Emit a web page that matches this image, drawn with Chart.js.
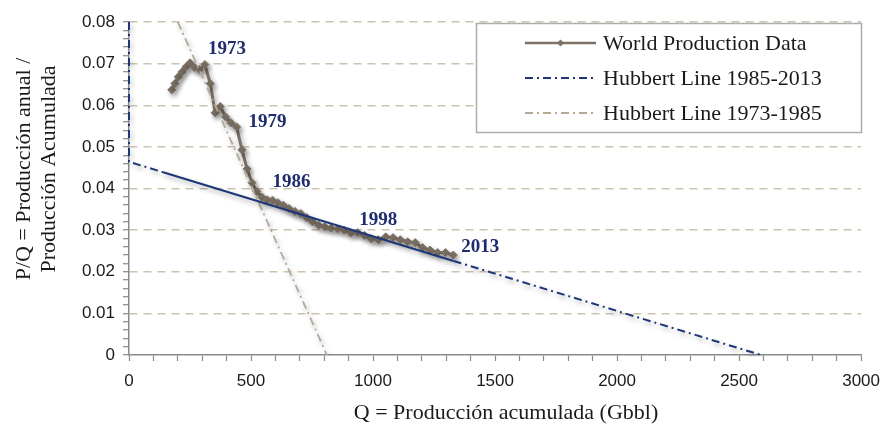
<!DOCTYPE html>
<html>
<head>
<meta charset="utf-8">
<script src="https://cdn.jsdelivr.net/npm/chart.js@4.4.1/dist/chart.umd.min.js"></script>
<style>
  html, body { margin: 0; padding: 0; background: #ffffff; }
  #wrap { width: 890px; height: 424px; position: relative; }
</style>
</head>
<body>
<div id="wrap"><canvas id="chart" width="890" height="424"></canvas></div>
<script>
// World oil production: P/Q against cumulative production Q (Gbbl), 1965-2013
const years = [
  1965, 1966, 1967, 1968, 1969, 1970, 1971, 1972, 1973, 1974,
  1975, 1976, 1977, 1978, 1979, 1980, 1981, 1982, 1983, 1984,
  1985, 1986, 1987, 1988, 1989, 1990, 1991, 1992, 1993, 1994,
  1995, 1996, 1997, 1998, 1999, 2000, 2001, 2002, 2003, 2004,
  2005, 2006, 2007, 2008, 2009, 2010, 2011, 2012, 2013
];
const cumulativeQ = [
  175, 188, 202, 217, 233, 250, 268, 289, 311, 333,
  353, 374, 396, 418, 441, 463, 484, 504, 524, 545,
  566, 588, 610, 633, 656, 680, 704, 728, 752, 777,
  802, 828, 855, 882, 909, 937, 965, 993, 1022, 1052,
  1082, 1112, 1142, 1173, 1203, 1234, 1265, 1297, 1329
];
const ratioPQ = [
  0.0637, 0.0652, 0.0668, 0.0680, 0.0692, 0.0702, 0.0691, 0.0686, 0.0698, 0.0652,
  0.0582, 0.0597, 0.0572, 0.0558, 0.0548, 0.0493, 0.0447, 0.0414, 0.0393, 0.0379,
  0.0373, 0.0372, 0.0366, 0.0360, 0.0352, 0.0345, 0.0340, 0.0330, 0.0320, 0.0312,
  0.0308, 0.0305, 0.0303, 0.0300, 0.0293, 0.0294, 0.0287, 0.0279, 0.0277, 0.0284,
  0.0282, 0.0277, 0.0272, 0.0270, 0.0258, 0.0252, 0.0246, 0.0246, 0.0240
];

// Hubbert linearisation lines (Q, P/Q)
const hubbertLateQ  = [0, 0, 140, 1330, 2590];
const hubbertLatePQ = [0.0800, 0.0464, 0.0439, 0.0226, 0];
const hubbertEarlyQ  = [200, 811];
const hubbertEarlyPQ = [0.0800, 0];

const labelledYears = [1973, 1979, 1986, 1998, 2013];
const seriesNames = ['World Production Data', 'Hubbert Line 1985-2013', 'Hubbert Line 1973-1985'];
const xTitle = 'Q = Producción acumulada (Gbbl)';
const yTitle = ['P/Q = Producción anual /', 'Producción Acumulada'];

const COL_DATA = '#7d7165';
const COL_LATE = '#1c3677';
const COL_EARLY = '#b3a994';
const COL_GRID = '#cdc3b0';
const COL_AXIS = '#8a8a8a';
const COL_TEXT = '#1a1a1a';
const COL_YEAR = '#1f2d6e';
const DASH_DOT = [8, 4, 2, 4];

const toPoints = (xs, ys) => xs.map((x, i) => ({ x: x, y: ys[i] }));
const dataMin = Math.min(...cumulativeQ), dataMax = Math.max(...cumulativeQ);

// soft drop shadow under every plotted series
const shadowPlugin = {
  id: 'seriesShadow',
  beforeDatasetDraw(chart) {
    const c = chart.ctx;
    c.save();
    c.shadowColor = 'rgba(0,0,0,0.35)';
    c.shadowBlur = 5;
    c.shadowOffsetX = 2;
    c.shadowOffsetY = 3;
  },
  afterDatasetDraw(chart) { chart.ctx.restore(); }
};

// year annotations next to selected points
const yearOffsets = { 1973: [3, -15], 1979: [12, -5], 1986: [0, -18], 1998: [15, -10], 2013: [8, -8] };
const yearLabelPlugin = {
  id: 'yearLabels',
  afterDatasetsDraw(chart) {
    const c = chart.ctx, xs = chart.scales.x, ys = chart.scales.y;
    c.save();
    c.font = 'bold 19px "Liberation Serif"';
    c.fillStyle = COL_YEAR;
    c.textAlign = 'left';
    c.textBaseline = 'middle';
    labelledYears.forEach(yr => {
      const i = years.indexOf(yr);
      const off = yearOffsets[yr];
      const px = xs.getPixelForValue(cumulativeQ[i]) + off[0];
      const py = ys.getPixelForValue(ratioPQ[i]) + off[1];
      c.fillText(String(yr), px, py);
    });
    c.restore();
  }
};

// axis titles
const axisTitlePlugin = {
  id: 'axisTitles',
  afterDraw(chart) {
    const c = chart.ctx;
    c.save();
    c.font = '22px "Liberation Serif"';
    c.fillStyle = COL_TEXT;
    c.textAlign = 'center';
    c.textBaseline = 'alphabetic';
    c.fillText(xTitle, 506, 419);
    c.translate(0, 169);
    c.rotate(-Math.PI / 2);
    c.fillText(yTitle[0], 0, 30);
    c.fillText(yTitle[1], 0, 55);
    c.restore();
  }
};

// boxed legend in the upper right of the plot
const legendPlugin = {
  id: 'boxLegend',
  afterDraw(chart) {
    const c = chart.ctx;
    const box = { x: 476.5, y: 23.5, w: 385, h: 109 };
    const rows = [43, 78, 113];
    const x0 = 525, x1 = 596, tx = 603;
    c.save();
    c.fillStyle = '#ffffff';
    c.fillRect(box.x, box.y, box.w, box.h);
    c.strokeStyle = '#adadad';
    c.lineWidth = 1.5;
    c.strokeRect(box.x, box.y, box.w, box.h);

    const styles = [
      { color: COL_DATA, dash: [], width: 2.5, marker: true },
      { color: COL_LATE, dash: DASH_DOT, width: 1.8, marker: false },
      { color: COL_EARLY, dash: DASH_DOT, width: 1.8, marker: false }
    ];
    styles.forEach((s, i) => {
      const y = rows[i];
      c.beginPath();
      c.setLineDash(s.dash);
      c.strokeStyle = s.color;
      c.lineWidth = s.width;
      c.moveTo(x0, y);
      c.lineTo(x1, y);
      c.stroke();
      c.setLineDash([]);
      if (s.marker) {
        const mx = (x0 + x1) / 2, r = 3.5;
        c.beginPath();
        c.moveTo(mx, y - r); c.lineTo(mx + r, y); c.lineTo(mx, y + r); c.lineTo(mx - r, y);
        c.closePath();
        c.fillStyle = s.color;
        c.fill();
      }
      c.font = '22px "Liberation Serif"';
      c.fillStyle = COL_TEXT;
      c.textAlign = 'left';
      c.textBaseline = 'middle';
      c.fillText(seriesNames[i], tx, y + 1);
    });
    c.restore();
  }
};

const isMajorY = v => Math.round(v * 1000) % 10 === 0;

new Chart(document.getElementById('chart'), {
  type: 'scatter',
  data: {
    datasets: [
      {
        label: seriesNames[1],
        data: toPoints(hubbertLateQ, hubbertLatePQ),
        showLine: true,
        borderColor: COL_LATE,
        borderWidth: 2,
        borderDash: DASH_DOT,
        pointRadius: 0,
        order: 0,
        clip: { left: 4, top: 2, right: 2, bottom: 2 },
        segment: {
          borderDash: ctx => (ctx.p0.parsed.x > 0 && ctx.p0.parsed.x < dataMin &&
                              ctx.p1.parsed.x <= dataMax + 5) ? [] : DASH_DOT,
          borderWidth: ctx => (ctx.p0.parsed.x > 0 && ctx.p1.parsed.x <= dataMax + 5) ? 2.2 : 2
        }
      },
      {
        label: seriesNames[2],
        data: toPoints(hubbertEarlyQ, hubbertEarlyPQ),
        showLine: true,
        borderColor: COL_EARLY,
        borderWidth: 1.8,
        borderDash: DASH_DOT,
        pointRadius: 0,
        order: 1
      },
      {
        label: seriesNames[0],
        data: toPoints(cumulativeQ, ratioPQ),
        showLine: true,
        borderColor: COL_DATA,
        borderWidth: 3,
        pointStyle: 'rectRot',
        pointRadius: 4,
        pointBackgroundColor: COL_DATA,
        pointBorderColor: COL_DATA,
        pointBorderWidth: 1,
        order: 2
      }
    ]
  },
  options: {
    responsive: false,
    devicePixelRatio: 1,
    animation: false,
    layout: { padding: { top: 22, right: 28, left: 0, bottom: 0 } },
    plugins: { legend: { display: false }, tooltip: { enabled: false } },
    scales: {
      x: {
        type: 'linear',
        min: 0,
        max: 3000,
        afterFit: s => { s.height = 69; },
        ticks: {
          stepSize: 100,
          autoSkip: false,
          maxRotation: 0,
          padding: 10,
          color: COL_TEXT,
          font: { family: '"Liberation Sans"', size: 17 },
          callback: v => (v % 500 === 0 ? String(v) : '')
        },
        grid: {
          drawOnChartArea: false,
          tickLength: 6,
          tickColor: COL_AXIS,
          tickWidth: 1.2
        },
        border: { color: COL_AXIS, width: 1.5 }
      },
      y: {
        type: 'linear',
        min: 0,
        max: 0.08,
        afterFit: s => { s.width = 129; },
        ticks: {
          stepSize: 0.002,
          autoSkip: false,
          padding: 8,
          color: COL_TEXT,
          font: { family: '"Liberation Sans"', size: 17 },
          callback: v => {
            if (!isMajorY(v)) return '';
            return Math.round(v * 1000) === 0 ? '0' : v.toFixed(2);
          }
        },
        grid: {
          color: ctx => (ctx.tick && isMajorY(ctx.tick.value) && ctx.tick.value > 0.0001) ? COL_GRID : 'rgba(0,0,0,0)',
          lineWidth: 1.4,
          tickLength: 6,
          tickColor: COL_AXIS,
          tickWidth: 1.2,
          tickBorderDash: []
        },
        border: { color: COL_AXIS, width: 1.5, dash: [8, 6] }
      }
    }
  },
  plugins: [shadowPlugin, yearLabelPlugin, axisTitlePlugin, legendPlugin]
});
</script>
</body>
</html>
